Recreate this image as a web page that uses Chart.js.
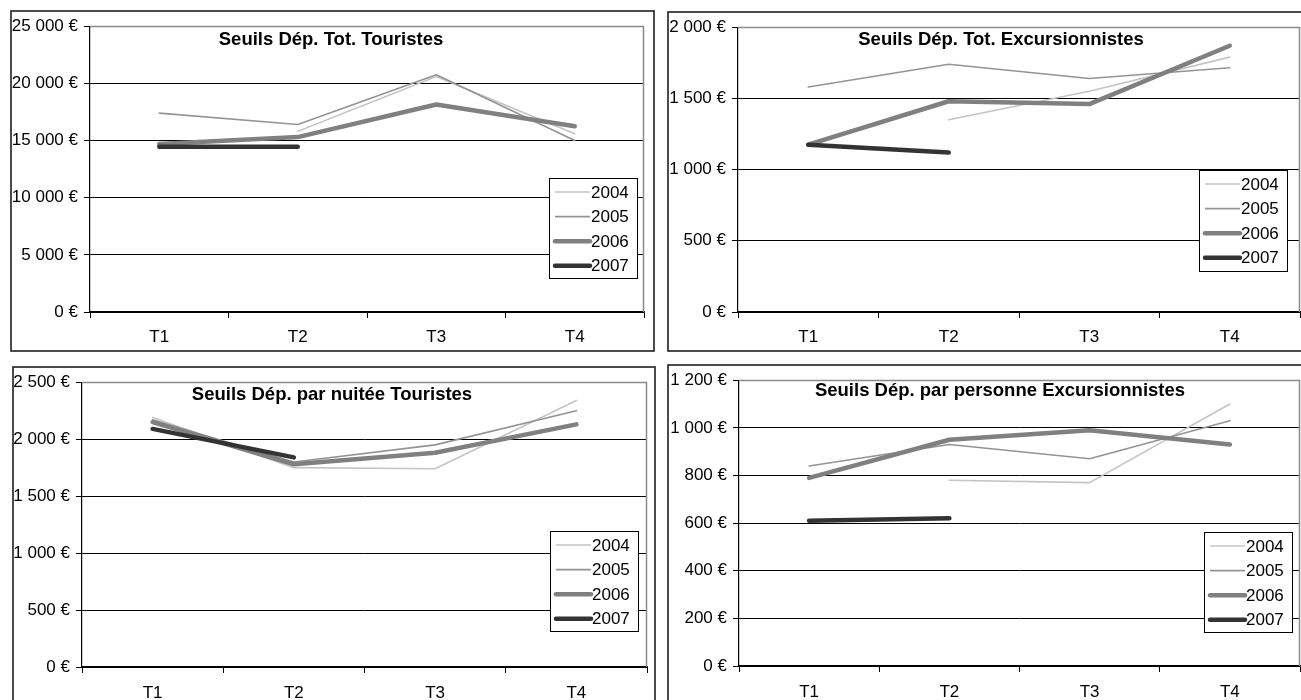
<!DOCTYPE html>
<html>
<head>
<meta charset="utf-8">
<script src="https://cdn.jsdelivr.net/npm/chart.js@4.4.1/dist/chart.umd.min.js"></script>
<style>
  html, body { margin: 0; padding: 0; background: #fff; overflow: hidden; width: 1301px; height: 700px; }
  canvas { position: absolute; display: block; }
</style>
</head>
<body>
<canvas id="totTour" width="645" height="342" style="left:10px;top:10px"></canvas>
<canvas id="totExc" width="668" height="341" style="left:667px;top:11px"></canvas>
<canvas id="nuitTour" width="644" height="345" style="left:12px;top:366px"></canvas>
<canvas id="persExc" width="668" height="345" style="left:667px;top:364px"></canvas>
<script>
// Quarters on the x axis and the years shown as series
const quarters = ['T1', 'T2', 'T3', 'T4'];
const years = ['2004', '2005', '2006', '2007'];

// Seuils Dép. Tot. Touristes (€)
const totTour2004 = [null, 15800, 20600, 15600];
const totTour2005 = [17400, 16400, 20750, 15000];
const totTour2006 = [14700, 15300, 18150, 16250];
const totTour2007 = [14450, 14450, null, null];

// Seuils Dép. Tot. Excursionnistes (€)
const totExc2004 = [null, 1350, 1550, 1790];
const totExc2005 = [1580, 1740, 1640, 1715];
const totExc2006 = [1175, 1480, 1460, 1870];
const totExc2007 = [1175, 1120, null, null];

// Seuils Dép. par nuitée Touristes (€)
const nuitTour2004 = [2190, 1750, 1740, 2340];
const nuitTour2005 = [2170, 1800, 1950, 2250];
const nuitTour2006 = [2150, 1780, 1880, 2130];
const nuitTour2007 = [2090, 1840, null, null];

// Seuils Dép. par personne Excursionnistes (€)
const persExc2004 = [null, 780, 770, 1100];
const persExc2005 = [840, 930, 870, 1030];
const persExc2006 = [790, 950, 990, 930];
const persExc2007 = [610, 620, null, null];

// Value axis ranges: [max, step]
const totTourAxis = [25000, 5000];
const totExcAxis = [2000, 500];
const nuitTourAxis = [2500, 500];
const persExcAxis = [1200, 200];

const FONT = '"Liberation Sans", Arial, Helvetica, sans-serif';
const TEXT_SIZE = 17;

// Line look of each year
const yearStyles = [
  { borderColor: '#c4c4c4', borderWidth: 1.6, order: 4 },
  { borderColor: '#949494', borderWidth: 1.6, order: 3 },
  { borderColor: '#808080', borderWidth: 4.5, order: 2 },
  { borderColor: '#333333', borderWidth: 4.5, order: 1 }
];

function euro(v) {
  return String(v).replace(/\B(?=(\d{3})+(?!\d))/g, '\u00a0') + '\u00a0€';
}

// Panel frame, plot-area border, inner title and boxed legend
const panelDecor = {
  id: 'panelDecor',
  beforeDraw(chart) {
    const { ctx, width, height } = chart;
    ctx.save();
    ctx.fillStyle = '#fff';
    ctx.fillRect(0, 0, width, height);
    ctx.restore();
  },
  beforeDatasetsDraw(chart) {
    const { ctx, chartArea: a } = chart;
    ctx.save();
    ctx.strokeStyle = '#8a8a8a';
    ctx.lineWidth = 1.5;
    ctx.beginPath();
    ctx.moveTo(Math.round(a.left), Math.round(a.top) + 0.5);
    ctx.lineTo(Math.round(a.right) - 0.5, Math.round(a.top) + 0.5);
    ctx.lineTo(Math.round(a.right) - 0.5, Math.round(a.bottom));
    ctx.stroke();
    ctx.restore();
  },
  afterDraw(chart, args, opts) {
    const { ctx, width, height } = chart;
    ctx.save();
    // outer frame
    ctx.strokeStyle = '#1e1e1e';
    ctx.lineWidth = 1.6;
    ctx.strokeRect(1, 1, width - 2, height - 2);

    // title
    ctx.fillStyle = '#000';
    ctx.font = 'bold 18.5px ' + FONT;
    ctx.textAlign = 'center';
    ctx.textBaseline = 'middle';
    ctx.fillText(opts.title, opts.titleX, opts.titleY);

    // legend
    const b = opts.legend;
    ctx.fillStyle = '#fff';
    ctx.fillRect(b.x, b.y, b.w, b.h);
    ctx.strokeStyle = '#000';
    ctx.lineWidth = 1;
    ctx.strokeRect(b.x + 0.5, b.y + 0.5, b.w, b.h);
    ctx.font = TEXT_SIZE + 'px ' + FONT;
    ctx.textAlign = 'left';
    chart.data.datasets.forEach((ds, i) => {
      const yy = b.y + 14 + i * 24.6;
      ctx.strokeStyle = ds.borderColor;
      ctx.lineWidth = ds.borderWidth;
      ctx.lineCap = ds.borderWidth > 3 ? 'round' : 'butt';
      ctx.beginPath();
      ctx.moveTo(b.x + 6, yy);
      ctx.lineTo(b.x + 41, yy);
      ctx.stroke();
      ctx.fillStyle = '#000';
      ctx.fillText(ds.label, b.x + 42, yy + 1);
    });
    ctx.restore();
  }
};

function makeChart(id, series, axis, cfg) {
  const [max, step] = axis;
  return new Chart(document.getElementById(id), {
    type: 'line',
    data: {
      labels: quarters,
      datasets: series.map((vals, i) => ({
        label: years[i],
        data: vals,
        borderColor: yearStyles[i].borderColor,
        borderWidth: yearStyles[i].borderWidth,
        order: yearStyles[i].order,
        pointRadius: 0,
        pointHoverRadius: 0,
        tension: 0,
        fill: false,
        spanGaps: false,
        borderCapStyle: 'round',
        borderJoinStyle: 'round'
      }))
    },
    options: {
      responsive: false,
      animation: false,
      devicePixelRatio: 1,
      events: [],
      layout: { padding: cfg.padding },
      plugins: {
        legend: { display: false },
        tooltip: { enabled: false },
        title: { display: false },
        panelDecor: { title: cfg.title, titleX: cfg.titleX, titleY: cfg.titleY, legend: cfg.legend }
      },
      scales: {
        x: {
          offset: true,
          grid: { offset: true, drawOnChartArea: false, drawTicks: true, tickLength: 6, color: '#000', lineWidth: 1 },
          border: { color: '#000', width: 1.2 },
          ticks: { color: '#000', font: { family: FONT, size: TEXT_SIZE }, padding: cfg.xPad, maxRotation: 0, autoSkip: false },
          afterFit(s) { s.height = cfg.xH; }
        },
        y: {
          min: 0,
          max: max,
          ticks: { stepSize: step, color: '#000', font: { family: FONT, size: TEXT_SIZE }, padding: 6, callback: v => euro(v) },
          grid: {
            color: c => (c.tick && c.tick.value === max) ? '#8a8a8a' : '#000',
            tickColor: '#000',
            tickLength: 6,
            lineWidth: 1
          },
          border: { color: '#000', width: 1.2 },
          afterFit(s) { s.width = cfg.yW; }
        }
      }
    },
    plugins: [panelDecor]
  });
}

makeChart('totTour', [totTour2004, totTour2005, totTour2006, totTour2007], totTourAxis, {
  title: 'Seuils Dép. Tot. Touristes', titleX: 321, titleY: 30,
  padding: { left: 0, top: 14, right: 11, bottom: 0 }, yW: 80, xH: 40, xPad: 9,
  legend: { x: 539, y: 168, w: 88, h: 100 }
});

makeChart('totExc', [totExc2004, totExc2005, totExc2006, totExc2007], totExcAxis, {
  title: 'Seuils Dép. Tot. Excursionnistes', titleX: 334, titleY: 29,
  padding: { left: 0, top: 13, right: 35, bottom: 0 }, yW: 71, xH: 40, xPad: 9,
  legend: { x: 532, y: 159, w: 88, h: 101 }
});

makeChart('nuitTour', [nuitTour2004, nuitTour2005, nuitTour2006, nuitTour2007], nuitTourAxis, {
  title: 'Seuils Dép. par nuitée Touristes', titleX: 320, titleY: 29,
  padding: { left: 0, top: 13, right: 9, bottom: 0 }, yW: 70, xH: 44, xPad: 10,
  legend: { x: 538, y: 165, w: 88, h: 100 }
});

makeChart('persExc', [persExc2004, persExc2005, persExc2006, persExc2007], persExcAxis, {
  title: 'Seuils Dép. par personne Excursionnistes', titleX: 333, titleY: 27,
  padding: { left: 0, top: 14, right: 35, bottom: 0 }, yW: 72, xH: 43, xPad: 10,
  legend: { x: 537, y: 168, w: 88, h: 100 }
});
</script>
</body>
</html>
